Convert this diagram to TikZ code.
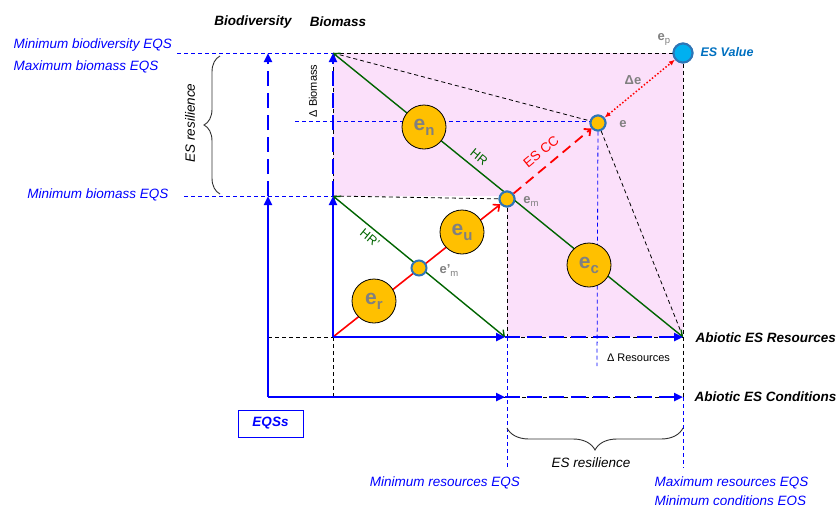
\documentclass[tikz,border=0pt]{standalone}
\usepackage{fontspec}
\setmainfont{Liberation Sans}
\usetikzlibrary{arrows.meta,decorations.pathreplacing,calc}
\definecolor{eqsblue}{RGB}{0,0,255}
\definecolor{esval}{RGB}{0,112,192}
\definecolor{cborder}{RGB}{46,117,182}
\definecolor{corange}{RGB}{255,192,0}
\definecolor{cyanfill}{RGB}{0,176,240}
\definecolor{hrgreen}{RGB}{0,100,0}
\definecolor{pinkbg}{RGB}{251,224,250}
\definecolor{lblgray}{RGB}{128,128,128}
\definecolor{bracegray}{RGB}{50,50,50}
\newcommand{\bigE}[1]{{\fontsize{21}{21}\selectfont e}\raisebox{-5pt}{\fontsize{15}{15}\selectfont #1}}
\newcommand{\smE}[2]{{\fontsize{13}{13}\selectfont e#1}\raisebox{-3pt}{\mdseries\fontsize{9.5}{9.5}\selectfont #2}}
\begin{document}
\begin{tikzpicture}[x=1pt,y=-1pt,
 axis/.style={eqsblue,line width=2.6pt,-{Triangle[length=9pt,width=8pt]}},
 axisdash/.style={axis,dash pattern=on 15pt off 7pt},
 blkdash/.style={black,line width=0.8pt,dash pattern=on 4pt off 3pt},
 bluedash/.style={eqsblue,line width=0.8pt,dash pattern=on 4pt off 3pt},
 hr/.style={hrgreen,line width=1.4pt,{Straight Barb[length=5pt,width=9pt]}-{Straight Barb[length=5pt,width=9pt]}},
 bigc/.style={circle,draw=black,line width=0.8pt,fill=corange,minimum size=44pt,inner sep=0pt,text=lblgray,font=\bfseries},
 smallc/.style={circle,draw=cborder,line width=2pt,fill=corange,minimum size=15pt,inner sep=0pt},
 lbl/.style={text=lblgray,font=\bfseries},
 eqs/.style={text=eqsblue,font=\itshape\fontsize{13.5}{14}\selectfont},
 axlbl/.style={font=\bfseries\itshape\fontsize{13.5}{14}\selectfont},
 bracestyle/.style={bracegray,line width=0.9pt,decorate},
 ]
\useasboundingbox (0,0) rectangle (839,504);
% coordinates
\coordinate (O) at (333,337);
\coordinate (Otop) at (333,53);
\coordinate (Omid) at (333,196);
\coordinate (Obot) at (333,397);
\coordinate (B0) at (268,397);
\coordinate (Bmid) at (268,196);
\coordinate (Btop) at (268,53);
\coordinate (Bres) at (268,337);
\coordinate (R1) at (505,337);
\coordinate (R2) at (683,337);
\coordinate (C1) at (505,397);
\coordinate (C2) at (683,397);
\coordinate (Rm) at (507,337);
\coordinate (Cm) at (507,397);
% pink region
\fill[pinkbg] (333,53) -- (683,53) -- (683,337) -- (507,337) -- (507,196) -- (333,196) -- cycle;
% circle nodes (placed now, drawn over later)
\node[smallc] (em) at (507,199) {};
\node[smallc] (e) at (598,123) {};
\node[circle,draw=cborder,line width=2pt,fill=cyanfill,minimum size=19pt,inner sep=0pt] (ep) at (683,53) {};
% black dashed lines
\draw[blkdash] (Otop) -- (ep);
\draw[blkdash] (ep) -- (C2);
\draw[blkdash] (Otop) -- (e);
\draw[blkdash] (e) -- (R2);
\draw[blkdash] (Omid) -- (em);
\draw[blkdash] (em) -- (Rm);
\draw[blkdash] (Bres) -- (O);
\draw[blkdash] (O) -- (Obot);
\draw[blkdash] (Otop) -- (Omid);
\draw[blkdash] (Rm) -- (R2);
\draw[blkdash] (Obot) -- (C2);
% blue thin dashed
\coordinate (q1) at (177,53);
\coordinate (q2) at (184,196);
\coordinate (q3) at (295,121);
\coordinate (q4) at (507,468);
\coordinate (q5) at (597,366);
\coordinate (q6) at (683,468);
\coordinate (q7) at (598,121);
\draw[bluedash] (q1) -- (Otop);
\draw[bluedash] (q2) -- (Omid);
\draw[bluedash] (q3) -- (q7);
\draw[bluedash] (Rm) -- (q4);
\draw[bluedash] (e) -- (q5);
\draw[bluedash] (C2) -- (q6);
% green HR lines
\draw[hr] (Otop) -- (R2);
\draw[hr] (Omid) -- (R1);
% red lines
\draw[red,line width=1.6pt,-{Straight Barb[length=5pt,width=9pt]}] (O) -- (em);
\draw[red,line width=1.8pt,dash pattern=on 10pt off 6pt,-{Straight Barb[length=5pt,width=9pt]}] (em) -- (e);
\draw[red,line width=1.5pt,dotted,{Latex[length=6pt,width=5pt]}-{Latex[length=6pt,width=5pt]}] (e) -- (ep);
% blue axes
\draw[axis] (B0) -- (Bmid);
\draw[axisdash] (Bmid) -- (Btop);
\draw[axis] (O) -- (Omid);
\draw[axisdash] (Omid) -- (Otop);
\draw[axis] (O) -- (R1);
\draw[axisdash] (R1) -- (R2);
\draw[axis] (B0) -- (C1);
\draw[axisdash] (C1) -- (C2);
% circles on top
\node[smallc] at (em) {};
\node[smallc] at (e) {};
\node[circle,draw=cborder,line width=2pt,fill=cyanfill,minimum size=19pt,inner sep=0pt] at (ep) {};
\node[smallc] (emp) at (419,268) {};
\node[bigc] (en) at (424,127) {\bigE{n}};
\node[bigc] (eu) at (462,232) {\bigE{u}};
\node[bigc] (er) at (374,301) {\bigE{r}};
\node[bigc] (ec) at (589,265) {\bigE{c}};
% braces
\coordinate (br1) at (220,194);
\coordinate (br2) at (220,56);
\draw[bracestyle,decoration={brace,amplitude=16pt}] (br1) -- (br2);
\coordinate (br3) at (683,428);
\coordinate (br4) at (507,428);
\draw[bracestyle,decoration={brace,amplitude=22pt}] (br3) -- (br4);
% labels
\node[axlbl] (lbio) at (253,22) {Biodiversity};
\node[axlbl] (lbm) at (338,22) {Biomass};
\node[eqs,anchor=west] (l1) at (10,45) {Minimum biodiversity EQS};
\node[eqs,anchor=west] (l2) at (10,67) {Maximum biomass EQS};
\node[eqs,anchor=east] (l3) at (172,195) {Minimum biomass EQS};
\node[rotate=90,font=\itshape\fontsize{13.5}{14}\selectfont] (l4) at (190,123) {ES resilience};
\node[rotate=90,font=\fontsize{11}{11}\selectfont] (l5) at (313,91) {Δ Biomass};
\node[axlbl,anchor=west] (l6) at (692,338) {Abiotic ES Resources};
\node[axlbl,anchor=west] (l7) at (691,397) {Abiotic ES Conditions};
\node[font=\fontsize{11}{11}\selectfont] (l8) at (638.5,358) {Δ Resources};
\node[draw=eqsblue,line width=1pt,text=eqsblue,font=\bfseries\itshape\fontsize{13.5}{14}\selectfont,minimum width=65pt,minimum height=27pt,inner sep=0pt] (eqsbox) at (270.5,423.5) {EQSs};
\node[font=\itshape\fontsize{13.5}{14}\selectfont] (l9) at (591,463) {ES resilience};
\node[eqs] (l10) at (445,483) {Minimum resources EQS};
\node[eqs,anchor=west] (l11) at (651,483) {Maximum resources EQS};
\node[eqs,anchor=west] (l12) at (651,502) {Minimum conditions EQS};
\node[text=esval,font=\bfseries\itshape\fontsize{12.5}{13}\selectfont,anchor=west] (lval) at (697,52) {ES Value};
\node[lbl] (lep) at (664,39) {\smE{}{p}};
\node[lbl,font=\bfseries\fontsize{13}{13}\selectfont] (lde) at (633,80) {Δe};
\node[lbl,font=\bfseries\fontsize{13}{13}\selectfont] (le) at (623,124) {e};
\node[lbl] (lem) at (531,201) {\smE{}{m}};
\node[lbl] (lemp) at (449,271) {\smE{’}{m}};
\node[text=hrgreen,rotate=-39,font=\fontsize{12.5}{13}\selectfont] (lhr) at (479,157) {HR};
\node[text=hrgreen,rotate=-39.5,font=\fontsize{12.5}{13}\selectfont] (lhrp) at (370,238) {HR’};
\node[text=red,rotate=39.5,font=\fontsize{13.5}{14}\selectfont] (lcc) at (541,152) {ES CC};
\end{tikzpicture}
\end{document}
